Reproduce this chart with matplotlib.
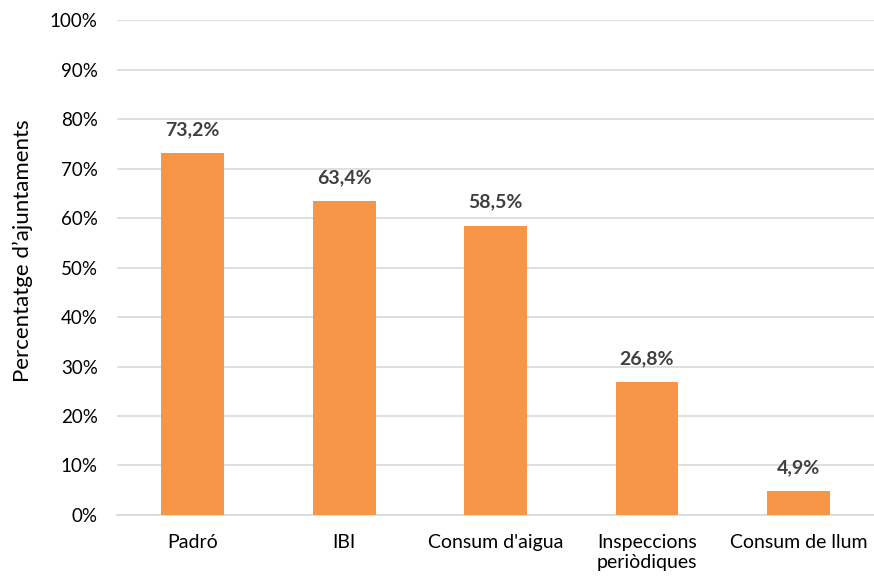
import matplotlib.pyplot as plt
import numpy as np

# dades
categories = ['Padró', 'IBI', "Consum d'aigua", 'Inspeccions\nperiòdiques', 'Consum de llum']
values = [73.2, 63.4, 58.5, 26.8, 4.9]
value_labels = ['73,2%', '63,4%', '58,5%', '26,8%', '4,9%']
yticks = list(range(0, 101, 10))
ytick_labels = [str(t) + '%' for t in yticks]

plt.rcParams['font.family'] = ['Lato', 'DejaVu Sans']

fig = plt.figure(figsize=(8.74, 5.77), dpi=100)
ax = fig.add_axes([0.134, 0.1075, 0.866, 0.8575])

x = np.arange(len(categories))
bars = ax.bar(x, values, width=0.415, color='#F79646', zorder=3)

for b, lab in zip(bars, value_labels):
    ax.text(b.get_x() + b.get_width() / 2, b.get_height() + 3.0, lab,
            ha='center', va='bottom', fontsize=14, fontweight='bold', color='#404040')

ax.set_xlim(-0.5, len(categories) - 0.5)
ax.set_ylim(0, 100)
ax.set_yticks(yticks)
ax.set_yticklabels(ytick_labels, fontsize=13.5, color='black')
ax.set_xticks(x)
ax.set_xticklabels(categories, fontsize=14, color='black', linespacing=1.2)
ax.tick_params(axis='both', length=0)
ax.tick_params(axis='y', pad=14)
ax.tick_params(axis='x', pad=14)

ax.grid(axis='y', color='#D9D9D9', linewidth=1.2, zorder=0)
for s in ['top', 'right', 'left']:
    ax.spines[s].set_visible(False)
ax.spines['bottom'].set_color('#D9D9D9')
ax.spines['bottom'].set_linewidth(1.2)

ax.set_ylabel('Percentatge d\u2019ajuntaments', fontsize=16)
ax.yaxis.set_label_coords(-0.111, 0.535)

fig.savefig('out.png', dpi=100)
